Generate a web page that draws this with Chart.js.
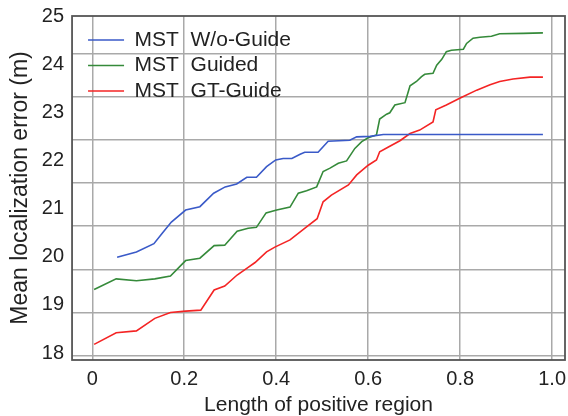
<!DOCTYPE html>
<html>
<head>
<meta charset="utf-8">
<script src="https://cdn.jsdelivr.net/npm/chart.js@4.4.1/dist/chart.umd.min.js"></script>
<style>
  html, body { margin: 0; padding: 0; background: #fff; }
  #wrap { width: 568px; height: 416px; position: relative; }
</style>
</head>
<body>
<div id="wrap"><canvas id="chart"></canvas></div>
<script>
// Series names as they appear in the legend
const seriesNames = ['MST  W/o-Guide', 'MST  Guided', 'MST  GT-Guide'];

// Blue: without guide
const blueX = [0.054, 0.096, 0.134, 0.153, 0.172, 0.203, 0.234, 0.264, 0.289, 0.314, 0.336, 0.357,
  0.379, 0.399, 0.415, 0.434, 0.452, 0.462, 0.491, 0.513, 0.560, 0.575, 0.604, 0.633, 0.980];
const blueY = [19.99, 20.10, 20.27, 20.50, 20.72, 20.97, 21.04, 21.32, 21.45, 21.51, 21.65, 21.65,
  21.87, 22.01, 22.04, 22.04, 22.13, 22.17, 22.17, 22.40, 22.42, 22.49, 22.50, 22.54, 22.54];

// Green: guided
const greenX = [0.004, 0.052, 0.096, 0.136, 0.170, 0.203, 0.234, 0.265, 0.288, 0.315, 0.339, 0.357,
  0.378, 0.401, 0.430, 0.448, 0.466, 0.488, 0.502, 0.517, 0.535, 0.553, 0.571, 0.586, 0.600, 0.618,
  0.625, 0.640, 0.647, 0.658, 0.680, 0.685, 0.691, 0.705, 0.716, 0.723, 0.741, 0.749, 0.760, 0.770,
  0.781, 0.807, 0.814, 0.828, 0.843, 0.868, 0.886, 0.937, 0.980];
const greenY = [19.32, 19.54, 19.50, 19.54, 19.60, 19.92, 19.97, 20.23, 20.24, 20.53, 20.59, 20.61,
  20.91, 20.97, 21.03, 21.32, 21.37, 21.45, 21.77, 21.84, 21.94, 21.99, 22.25, 22.39, 22.47, 22.53,
  22.86, 22.96, 22.99, 23.15, 23.20, 23.36, 23.55, 23.64, 23.74, 23.79, 23.81, 23.98, 24.10, 24.26,
  24.29, 24.31, 24.43, 24.54, 24.56, 24.58, 24.63, 24.64, 24.65];

// Red: ground-truth guide
const redX = [0.004, 0.052, 0.096, 0.136, 0.170, 0.203, 0.236, 0.265, 0.288, 0.315, 0.339, 0.354,
  0.379, 0.397, 0.430, 0.466, 0.489, 0.502, 0.520, 0.557, 0.575, 0.600, 0.618, 0.625, 0.644, 0.669,
  0.691, 0.712, 0.741, 0.747, 0.770, 0.799, 0.836, 0.865, 0.886, 0.915, 0.952, 0.980];
const redY = [18.18, 18.42, 18.46, 18.72, 18.84, 18.87, 18.89, 19.31, 19.39, 19.62, 19.78, 19.88,
  20.10, 20.20, 20.35, 20.62, 20.79, 21.14, 21.28, 21.49, 21.70, 21.90, 22.01, 22.18, 22.28, 22.41,
  22.56, 22.63, 22.80, 23.05, 23.15, 23.29, 23.46, 23.57, 23.64, 23.69, 23.73, 23.73];

const seriesColors = ['#3a5ac8', '#358a3a', '#f42424'];

const xTickValues = [0, 0.2, 0.4, 0.6, 0.8, 1.0];
const xTickLabels = ['0', '0.2', '0.4', '0.6', '0.8', '1.0'];

const toPoints = (xs, ys) => xs.map((x, i) => ({ x: x, y: ys[i] }));

const FONT = "'Liberation Sans', Arial, sans-serif";
const gridColor = '#a9a9a9';

// box round the plot area
const framePlugin = {
  id: 'frame',
  afterDraw(chart) {
    const a = chart.chartArea;
    const ctx = chart.ctx;
    ctx.save();
    ctx.strokeStyle = '#555';
    ctx.lineWidth = 1.8;
    ctx.strokeRect(a.left, a.top, a.right - a.left, a.bottom - a.top);
    ctx.restore();
  }
};

// put the in-plot legend where the figure has it
const legendShift = {
  id: 'legendShift',
  afterLayout(chart) {
    chart.legend.left = chart.chartArea.left + 11.5;
    chart.legend.top = chart.chartArea.top + 9;
  }
};

new Chart(document.getElementById('chart'), {
  type: 'line',
  data: {
    datasets: [
      { label: seriesNames[0], data: toPoints(blueX, blueY), borderColor: seriesColors[0] },
      { label: seriesNames[1], data: toPoints(greenX, greenY), borderColor: seriesColors[1] },
      { label: seriesNames[2], data: toPoints(redX, redY), borderColor: seriesColors[2] }
    ]
  },
  options: {
    responsive: true,
    maintainAspectRatio: false,
    animation: false,
    datasets: {
      line: { borderWidth: 1.6, pointRadius: 0, fill: false, tension: 0 }
    },
    layout: { padding: { left: 0, top: 16, right: 3, bottom: 0 } },
    plugins: {
      tooltip: { enabled: false },
      legend: {
        position: 'chartArea',
        align: 'start',
        labels: {
          usePointStyle: true,
          pointStyle: 'line',
          pointStyleWidth: 36,
          padding: 4.5,
          color: '#222',
          font: { family: FONT, size: 21 }
        }
      }
    },
    scales: {
      x: {
        type: 'linear',
        position: 'bottom',
        min: -0.044,
        max: 1.028,
        afterBuildTicks: (axis) => { axis.ticks = xTickValues.map(v => ({ value: v })); },
        ticks: {
          callback: (v, i) => xTickLabels[i],
          color: '#222',
          padding: 0,
          maxRotation: 0,
          // tall line box pushes the labels down without widening the side padding
          font: { family: FONT, size: 20, lineHeight: 1.9 }
        },
        grid: { color: gridColor, lineWidth: 1.5, drawTicks: false },
        border: { display: false },
        title: {
          display: true,
          text: 'Length of positive region',
          color: '#222',
          padding: { top: -3, bottom: 0 },
          font: { family: FONT, size: 21, lineHeight: 1 }
        }
      },
      y: {
        position: 'left',
        min: 17.855,
        max: 25,
        ticks: {
          stepSize: 1,
          includeBounds: false,
          color: '#222',
          padding: 8,
          font: { family: FONT, size: 20, lineHeight: 0.8 }
        },
        grid: { display: false, drawTicks: false },
        border: { display: false },
        title: {
          display: true,
          text: 'Mean localization error (m)',
          color: '#222',
          padding: { top: 9.5, bottom: 1.3 },
          font: { family: FONT, size: 23, lineHeight: 1 }
        }
      },
      // second axis only carries the horizontal grid lines of the figure
      yg: {
        position: 'right',
        min: 17.9,
        max: 25.863,
        ticks: { display: false, stepSize: 1, includeBounds: false },
        grid: { color: gridColor, lineWidth: 1.5, drawTicks: false },
        border: { display: false }
      }
    }
  },
  plugins: [framePlugin, legendShift]
});
</script>
</body>
</html>
